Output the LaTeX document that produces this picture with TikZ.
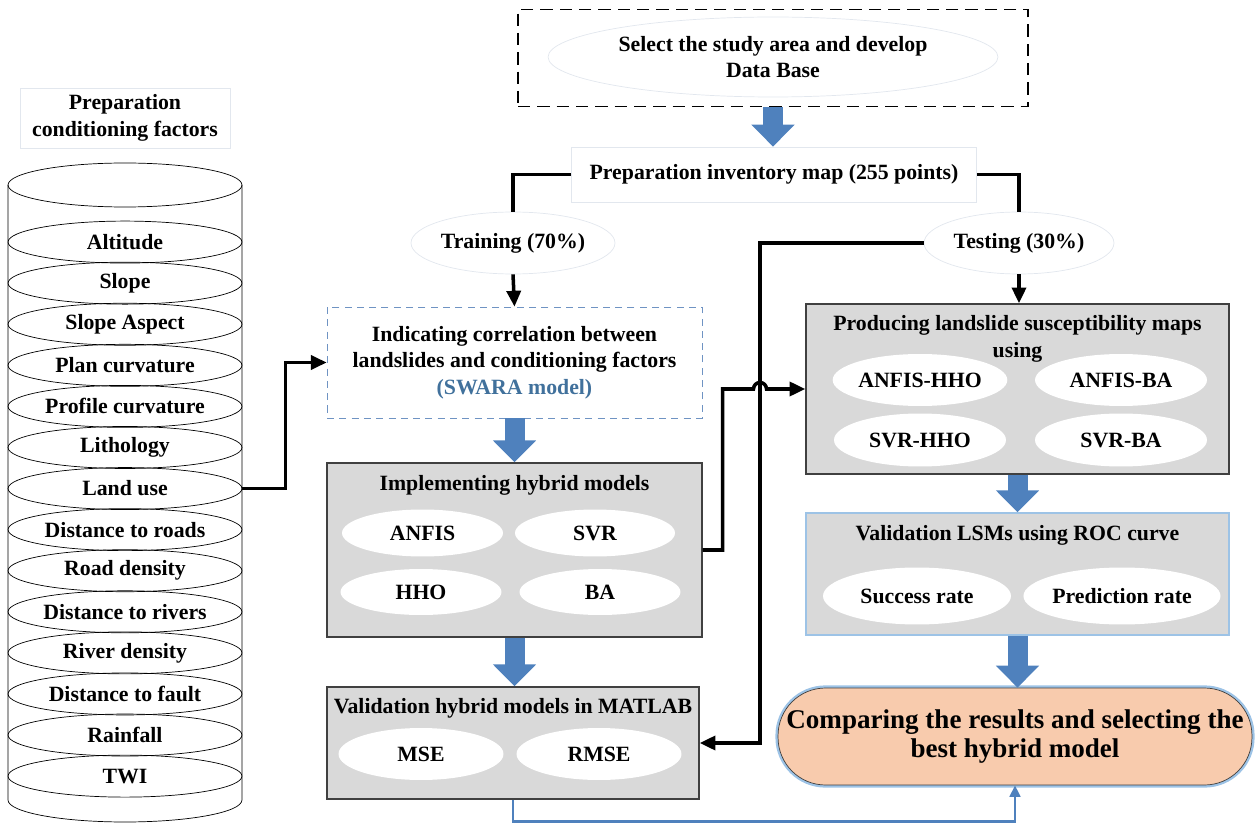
\documentclass[tikz,border=0pt]{standalone}
\usepackage{fontspec}
\setmainfont{Liberation Serif}
\usepackage{tikz}
\usetikzlibrary{shapes.geometric, arrows.meta, calc}

\definecolor{boxgray}{HTML}{D9D9D9}
\definecolor{boxline}{HTML}{404040}
\definecolor{arrowblue}{HTML}{4F81BD}
\definecolor{swarablue}{HTML}{41719C}
\definecolor{dashblue}{HTML}{6F93C3}
\definecolor{lsmline}{HTML}{9DC3E6}
\definecolor{peach}{HTML}{F8CBAD}
\definecolor{faint}{HTML}{E2E7EE}

\tikzset{
  factor/.style={ellipse, draw, minimum width=4.68cm, minimum height=0.84cm},
  oval/.style={ellipse, fill=white},
  greybox/.style={rectangle, draw=boxline, fill=boxgray, line width=0.8pt},
  plainlink/.style={line width=2pt},
  link/.style={line width=2pt, -{Triangle[length=9pt,width=8pt]}},
  bigarrow/.style={draw=arrowblue, line width=0.4cm, -{Triangle[length=0.44cm,width=0.84cm]}},
  bluelink/.style={draw=arrowblue, line width=1.5pt, -{Triangle[length=6.5pt,width=6pt]}}
}

\begin{document}
\begin{tikzpicture}[x=0.02cm, y=-0.02cm,
  every node/.style={font=\fontsize{12.4}{15}\selectfont\bfseries, align=center, inner sep=0pt}]
\useasboundingbox (0,0) rectangle (1255,824);

% conditioning factors drawn as a cylinder
\node[draw=faint, minimum width=4.2cm, minimum height=1.2cm] (ftitle) at (125,118) {Preparation\\conditioning factors};
\draw (8,185) -- (8,800) arc[start angle=180, end angle=360, x radius=2.34cm, y radius=0.44cm] -- (242,185);
\draw (125,185) ellipse [x radius=2.34cm, y radius=0.44cm];
\foreach \f [count=\i] in {Altitude, Slope, Slope Aspect, Plan curvature, Profile curvature, Lithology, Land use, Distance to roads, Road density, Distance to rivers, River density, Distance to fault, Rainfall, TWI}
  \node[factor] (f\i) at (125, 201+41.08*\i) {\f};

% data base and inventory
\node[draw, dashed, dash pattern=on 7pt off 4pt, line width=0.9pt, minimum width=10.2cm, minimum height=1.94cm] (top) at (773,58) {};
\node[oval, draw=faint, minimum width=9cm, minimum height=1.6cm] (area) at (773,57) {Select the study area and develop\\Data Base};
\node[draw=faint, minimum width=8.1cm, minimum height=1.1cm] (inv) at (774,174.5) {Preparation inventory map (255 points)};
\node[oval, draw=faint, minimum width=3.76cm, minimum height=1.24cm] (train) at (513,243) {Training (70\%)};
\node[oval, draw=faint, minimum width=3.8cm, minimum height=1.24cm] (test) at (1019,243) {Testing (30\%)};

% left branch
\node[draw=dashblue, dashed, dash pattern=on 4pt off 3pt, minimum width=7.5cm, minimum height=2.22cm] (swara) at (514.5,362.5) {Indicating correlation between\\landslides and conditioning factors\\\textcolor{swarablue}{(SWARA model)}};

\node[greybox, minimum width=7.5cm, minimum height=3.48cm] (impl) at (514.5,550) {};
\node (impltitle) at (514.5,485) {Implementing hybrid models};
\node[oval, minimum width=3.22cm, minimum height=0.94cm] (anfis) at (422.5,533) {ANFIS};
\node[oval, minimum width=3.2cm, minimum height=0.94cm] (svr) at (595,533) {SVR};
\node[oval, minimum width=3.22cm, minimum height=0.92cm] (hho) at (421,592) {HHO};
\node[oval, minimum width=3.22cm, minimum height=0.92cm] (ba) at (600,592) {BA};

\node[greybox, minimum width=7.44cm, minimum height=2.24cm] (matlab) at (513,743) {};
\node (mattitle) at (513,708) {Validation hybrid models in MATLAB};
\node[oval, minimum width=3.3cm, minimum height=1.04cm] (mse) at (421,754) {MSE};
\node[oval, minimum width=3.3cm, minimum height=1.04cm] (rmse) at (599,754) {RMSE};

% right branch
\node[greybox, minimum width=8.46cm, minimum height=3.4cm] (prod) at (1017.5,389) {};
\node (prodtitle) at (1017.5,339) {Producing landslide susceptibility maps\\using};
\node[oval, minimum width=3.44cm, minimum height=1.04cm] (ahho) at (920,380) {ANFIS-HHO};
\node[oval, minimum width=3.44cm, minimum height=1.04cm] (aba) at (1121,380) {ANFIS-BA};
\node[oval, minimum width=3.44cm, minimum height=1.06cm] (shho) at (920,440) {SVR-HHO};
\node[oval, minimum width=3.44cm, minimum height=1.06cm] (sba) at (1121,440) {SVR-BA};

\node[rectangle, draw=lsmline, fill=boxgray, line width=0.8pt, minimum width=8.46cm, minimum height=2.44cm] (lsm) at (1017.5,574) {};
\node (lsmtitle) at (1017.5,535) {Validation LSMs using ROC curve};
\node[oval, minimum width=3.76cm, minimum height=1.14cm] (succ) at (917,596) {Success rate};
\node[oval, minimum width=3.74cm, minimum height=1.14cm] (pred) at (1122,596) {Prediction rate};

\node[draw=boxline, fill=peach, rounded corners=0.95cm, minimum width=9.48cm, minimum height=1.94cm,
  preaction={draw=lsmline, line width=3pt, rounded corners=0.95cm},
  font=\fontsize{15.4}{16.5}\selectfont\bfseries] (comp) at (1015,736.5) {Comparing the results and selecting the\\best hybrid model};

% connectors
\draw[plainlink] (inv.west) -| (train.north);
\draw[plainlink] (inv.east) -| (test.north);
\draw[link] (train.south) -- (swara.north);
\draw[link] (test.south) -- (test.south |- prod.north);
\draw[link] (f7.east) -- ++(43,0) |- (swara.west);
\coordinate (drop) at (760,243);
\draw[link] (test.west) -- (drop) |- (matlab.east);
\coordinate (hop) at (drop |- prod.west);
\draw[link] (impl.east) -- ++(20,0) |- ([xshift=-0.13cm]hop) arc[start angle=180, end angle=0, radius=0.13cm] -- (prod.west);

\draw[bigarrow] (top.south) -- (top.south |- inv.north);
\draw[bigarrow] (swara.south) -- (impl.north);
\draw[bigarrow] (impl.south) -- (impl.south |- matlab.north);
\draw[bigarrow] (prod.south) -- (lsm.north);
\draw[bigarrow] (lsm.south) -- (lsm.south |- comp.north);
\draw[bluelink] (matlab.south) -- ++(0,22) -| (comp.south);
\end{tikzpicture}
\end{document}
